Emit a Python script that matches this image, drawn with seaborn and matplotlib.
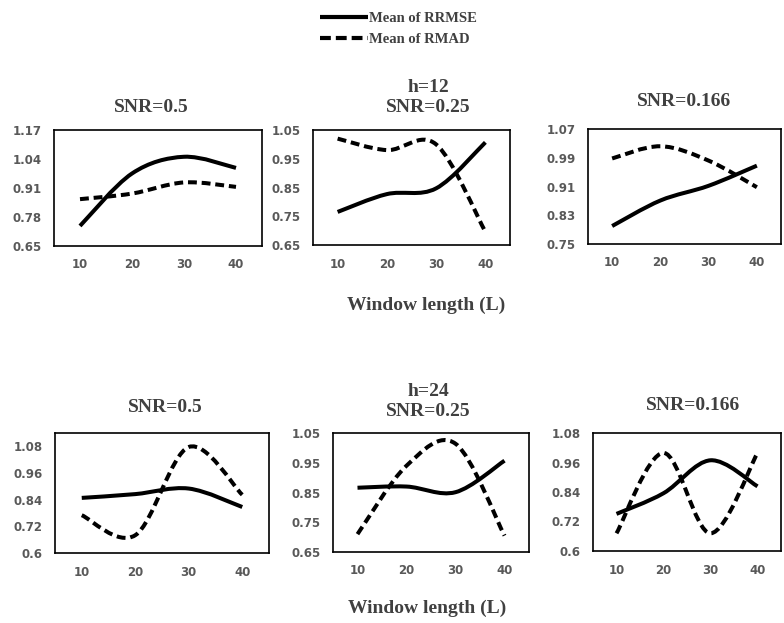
import numpy as np
import pandas as pd
import seaborn as sns
import matplotlib.pyplot as plt
from matplotlib.path import Path
from matplotlib.patches import PathPatch
from matplotlib.lines import Line2D

# data
window = [10, 20, 30, 40]

rrmse_h12 = {
    "0.5": [0.74, 0.975, 1.05, 1.00],
    "0.25": [0.765, 0.827, 0.847, 1.007],
    "0.166": [0.80, 0.871, 0.912, 0.968],
}
rmad_h12 = {
    "0.5": [0.86, 0.885, 0.935, 0.915],
    "0.25": [1.02, 0.98, 1.0, 0.696],
    "0.166": [0.988, 1.022, 0.982, 0.908],
}
rrmse_h24 = {
    "0.5": [0.848, 0.865, 0.89, 0.807],
    "0.25": [0.866, 0.87, 0.851, 0.957],
    "0.166": [0.751, 0.835, 0.969, 0.863],
}
rmad_h24 = {
    "0.5": [0.77, 0.68, 1.077, 0.862],
    "0.25": [0.71, 0.94, 1.014, 0.705],
    "0.166": [0.672, 0.999, 0.672, 0.999],
}

yticks_h12 = {
    "0.5": ["0.65", "0.78", "0.91", "1.04", "1.17"],
    "0.25": ["0.65", "0.75", "0.85", "0.95", "1.05"],
    "0.166": ["0.75", "0.83", "0.91", "0.99", "1.07"],
}
yticks_h24 = {
    "0.5": ["0.6", "0.72", "0.84", "0.96", "1.08"],
    "0.25": ["0.65", "0.75", "0.85", "0.95", "1.05"],
    "0.166": ["0.6", "0.72", "0.84", "0.96", "1.08"],
}
ytop_h24_05 = 1.14

rows = []
for h, rr, rm in [(12, rrmse_h12, rmad_h12), (24, rrmse_h24, rmad_h24)]:
    for snr in rr:
        for L, a, b in zip(window, rr[snr], rm[snr]):
            rows.append({"h": h, "snr": snr, "L": L, "measure": "Mean of RRMSE", "value": a})
            rows.append({"h": h, "snr": snr, "L": L, "measure": "Mean of RMAD", "value": b})
df = pd.DataFrame(rows)

sns.set_theme(style="white")
plt.rcParams["font.family"] = ["DejaVu Sans"]

W, H = 784, 623
fig = plt.figure(figsize=(W / 100, H / 100), dpi=100)

# panel boxes in pixels: left, right, top, bottom
boxes = {
    (12, "0.5"): (54, 262, 130, 246),
    (12, "0.25"): (313, 510, 130, 245),
    (12, "0.166"): (588, 781, 129, 244),
    (24, "0.5"): (55, 269, 433, 553),
    (24, "0.25"): (333, 529, 433, 552),
    (24, "0.166"): (593, 781, 433, 551),
}

title_kw = dict(family="Liberation Serif", weight="bold", color="#404040",
                fontsize=14, ha="center", va="center")
tick_col = "#595959"
lw = 2.9
dash = (0, (2.2, 1.2))


def smooth_path(x, y):
    # Excel-like smoothed line: cubic Bezier through the data points
    p = np.column_stack([x, y]).astype(float)
    ext = np.vstack([p[0], p, p[-1]])
    verts, codes = [p[0]], [Path.MOVETO]
    for i in range(len(p) - 1):
        c1 = ext[i + 1] + (ext[i + 2] - ext[i]) / 6
        c2 = ext[i + 2] - (ext[i + 3] - ext[i + 1]) / 6
        verts += [c1, c2, p[i + 1]]
        codes += [Path.CURVE4] * 3
    return Path(verts, codes)


for (h, snr), (l, r, t, b) in boxes.items():
    ax = fig.add_axes([l / W, 1 - b / H, (r - l) / W, (b - t) / H])
    sub = df[(df.h == h) & (df.snr == snr)]
    for measure, ls in [("Mean of RRMSE", "-"), ("Mean of RMAD", dash)]:
        s = sub[sub.measure == measure]
        ax.add_patch(PathPatch(smooth_path(s.L, s.value), fill=False,
                               edgecolor="black", lw=lw, linestyle=ls,
                               capstyle="butt", joinstyle="round"))
    labels = (yticks_h12 if h == 12 else yticks_h24)[snr]
    vals = [float(v) for v in labels]
    top = ytop_h24_05 if (h == 24 and snr == "0.5") else vals[-1]
    ax.set_ylim(vals[0], top)
    ax.set_yticks(vals)
    ax.set_yticklabels(labels)
    ax.set_xlim(5, 45)
    ax.set_xticks(window)
    ax.set_xticklabels([str(v) for v in window])
    ax.tick_params(length=0, labelsize=8.5, labelcolor=tick_col)
    ax.tick_params(axis="y", pad=9)
    ax.tick_params(axis="x", pad=9)
    for lab in ax.get_xticklabels() + ax.get_yticklabels():
        lab.set_fontweight("bold")
    for sp in ax.spines.values():
        sp.set_color("black")
        sp.set_linewidth(1.2)
    ax.set_facecolor("white")

# panel titles
fig.text(151 / W, 1 - 108 / H, "SNR=0.5", **title_kw)
fig.text(428 / W, 1 - 88 / H, "h=12", **title_kw)
fig.text(428 / W, 1 - 108 / H, "SNR=0.25", **title_kw)
fig.text(684 / W, 1 - 102 / H, "SNR=0.166", **title_kw)
fig.text(426 / W, 1 - 305 / H, "Window length (L)", **title_kw)

fig.text(165 / W, 1 - 408 / H, "SNR=0.5", **title_kw)
fig.text(428 / W, 1 - 392 / H, "h=24", **title_kw)
fig.text(428 / W, 1 - 412 / H, "SNR=0.25", **title_kw)
fig.text(693 / W, 1 - 405 / H, "SNR=0.166", **title_kw)
fig.text(427 / W, 1 - 608 / H, "Window length (L)", **title_kw)

handles = [
    Line2D([], [], color="black", lw=3.0, solid_capstyle="butt"),
    Line2D([], [], color="black", lw=3.0, linestyle=(0, (2.6, 1.2)), dash_capstyle="butt"),
]
leg = fig.legend(handles, ["Mean of RRMSE", "Mean of RMAD"], loc="upper left",
                 bbox_to_anchor=(320 / W, 1 - 12 / H), frameon=False,
                 handlelength=3.3, handletextpad=0.05, labelspacing=0.55,
                 borderpad=0, borderaxespad=0,
                 prop={"family": "Liberation Serif", "weight": "bold", "size": 10.5})
for txt in leg.get_texts():
    txt.set_color("#404040")

fig.savefig("out.png", dpi=100)
